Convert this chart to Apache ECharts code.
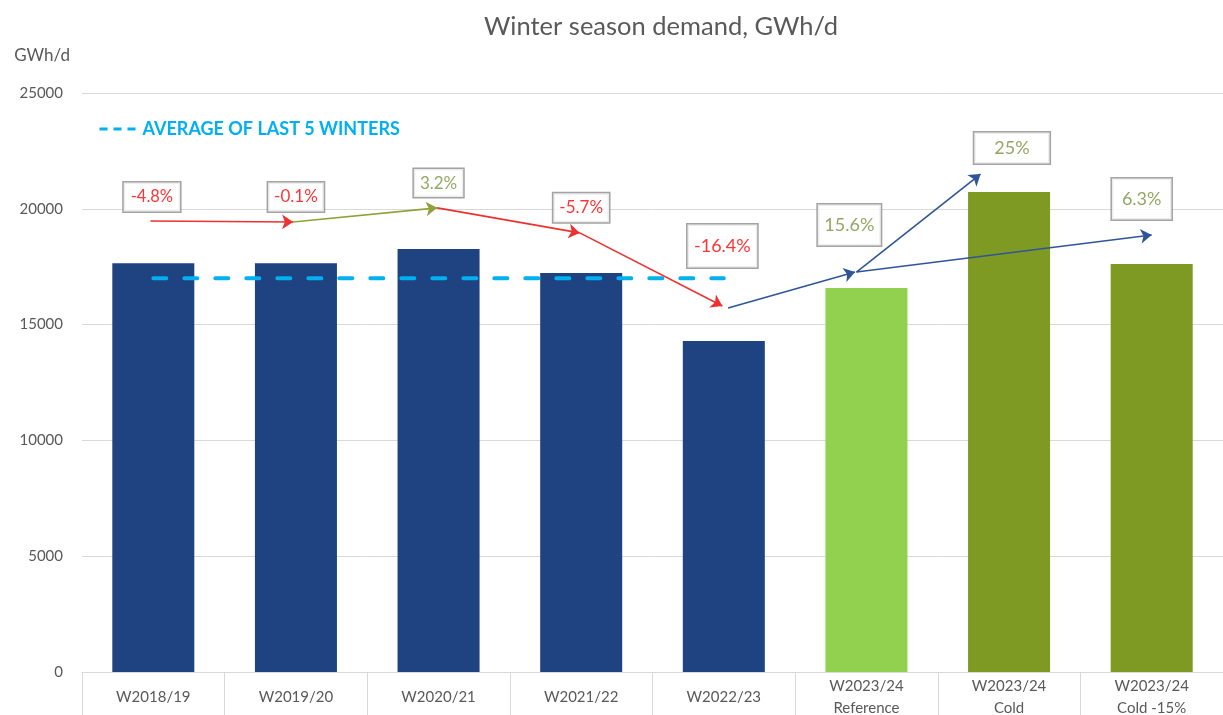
<!DOCTYPE html>
<html>
<head>
<meta charset="utf-8">
<script src="https://cdn.jsdelivr.net/npm/echarts@6/dist/echarts.min.js"></script>
<style>
  html, body { margin: 0; padding: 0; background: #fff; }
  #chart { width: 1223px; height: 715px; }
</style>
</head>
<body>
<div id="chart"></div>
<script>
const categories = ['W2018/19', 'W2019/20', 'W2020/21', 'W2021/22', 'W2022/23',
  'W2023/24\nReference', 'W2023/24\nCold', 'W2023/24\nCold -15%']
const demand = [17650, 17650, 18260, 17230, 14290, 16580, 20730, 17620]
const averageLast5 = 17000
const yTicks = { min: 0, max: 25000, step: 5000 }

// change annotations: text, label anchor [x, y], where x is the category slot (0..8)
const changeLabels = ['-4.8%', '-0.1%', '3.2%', '-5.7%', '-16.4%', '15.6%', '25%', '6.3%']
const labelAnchors = [[0.49, 20510], [1.50, 20510], [2.50, 21110], [3.50, 20040],
  [4.49, 18390], [5.38, 19300], [6.52, 22620], [7.43, 20420]]
// arrows: [from, to] in the same coordinates
const arrows = [
  [[0.48, 19470], [1.48, 19430]],
  [[1.48, 19430], [2.49, 20040]],
  [[2.49, 20040], [3.49, 18960]],
  [[3.49, 18960], [4.49, 15800]],
  [[4.53, 15720], [5.42, 17270]],
  [[5.43, 17270], [6.30, 21500]],
  [[5.43, 17270], [7.50, 18870]]
]

const RED = '#FF0000'
const OLIVE = '#76923C'
const NAVY = '#2F5597'
const barColor = i => (i < 5 ? '#1F4380' : i === 5 ? '#92D050' : '#7F9A23')
const arrowColor = i => (i === 1 ? '#8FA23A' : i >= 4 ? NAVY : '#EE3030')
// font size, line height, padding [v, h]
const labelStyle = [
  { size: 16.5, lh: 18, pad: [5.5, 7] }, { size: 17, lh: 18, pad: [5.5, 6] },
  { size: 17, lh: 18, pad: [5, 6] }, { size: 17, lh: 18, pad: [5.5, 6] },
  { size: 18, lh: 20, pad: [11.5, 6.5] }, { size: 18, lh: 20, pad: [10.5, 6.5] },
  { size: 18, lh: 20, pad: [5.5, 20] }, { size: 18, lh: 20, pad: [10.5, 10] }
]

const font = 'Lato, "Liberation Sans", sans-serif'
const chart = echarts.init(document.getElementById('chart'))

chart.setOption({
  backgroundColor: '#fff',
  animation: false,
  textStyle: { fontFamily: font },
  title: {
    text: 'Winter season demand, GWh/d',
    left: 479, top: 9,
    textStyle: { color: '#595959', fontSize: 25.5, fontWeight: 'normal', fontFamily: font }
  },
  legend: {
    left: 93, top: 115,
    data: ['AVERAGE OF LAST 5 WINTERS'],
    itemWidth: 38, itemHeight: 12,
    itemStyle: { color: 'rgba(0,0,0,0)', borderWidth: 0 },
    lineStyle: { type: [8, 6], width: 3, cap: 'butt' },
    textStyle: { color: '#00B0F0', fontSize: 18, fontWeight: 'bold', fontFamily: font }
  },
  grid: { left: 82, right: 0, top: 93, bottom: 43, containLabel: false, outerBoundsMode: 'none' },
  xAxis: [
    {
      type: 'category',
      data: categories,
      axisLine: { lineStyle: { color: '#D9D9D9' } },
      axisTick: { show: true, length: 45, alignWithLabel: false, lineStyle: { color: '#D9D9D9' } },
      axisLabel: {
        color: '#595959', fontSize: 15, margin: 25, lineHeight: 22,
        verticalAlign: 'middle', fontFamily: font
      }
    },
    { type: 'value', min: 0, max: 8, show: false }
  ],
  yAxis: {
    type: 'value',
    min: yTicks.min, max: yTicks.max, interval: yTicks.step,
    name: 'GWh/d',
    nameLocation: 'end',
    nameGap: 29,
    nameTextStyle: { color: '#595959', fontSize: 17, align: 'right', padding: [0, 12, 0, 0] },
    axisLine: { show: false },
    axisTick: { show: false },
    axisLabel: { color: '#595959', fontSize: 15, margin: 19, fontFamily: font, formatter: v => String(v) },
    splitLine: { lineStyle: { color: '#D9D9D9' } }
  },
  series: [
    {
      type: 'bar',
      barWidth: '57.5%',
      data: demand.map((v, i) => ({ value: v, itemStyle: { color: barColor(i) } })),
      z: 2
    },
    {
      name: 'AVERAGE OF LAST 5 WINTERS',
      type: 'line',
      symbol: 'none',
      data: demand.map((v, i) => (i < 5 ? averageLast5 : '-')),
      lineStyle: { color: '#00B0F0', width: 4, type: [13, 18], cap: 'round' },
      itemStyle: { color: '#00B0F0' },
      z: 3
    },
    {
      type: 'lines',
      coordinateSystem: 'cartesian2d',
      xAxisIndex: 1,
      yAxisIndex: 0,
      symbol: ['none', 'arrow'],
      symbolSize: 11,
      data: arrows.map((a, i) => ({
        coords: a,
        lineStyle: { color: arrowColor(i), width: 1.6, opacity: 1, curveness: 0 }
      })),
      z: 4
    },
    {
      type: 'scatter',
      xAxisIndex: 1,
      yAxisIndex: 0,
      symbolSize: 1,
      itemStyle: { color: 'rgba(0,0,0,0)' },
      data: labelAnchors.map((p, i) => ({
        value: p,
        name: changeLabels[i],
        label: {
          show: true,
          position: 'inside',
          formatter: changeLabels[i],
          color: changeLabels[i].startsWith('-') ? RED : OLIVE,
          fontSize: labelStyle[i].size,
          lineHeight: labelStyle[i].lh,
          fontFamily: font,
          backgroundColor: '#fff',
          borderColor: '#8C8C8C',
          borderWidth: 1.5,
          padding: labelStyle[i].pad
        }
      })),
      z: 5
    }
  ]
})
</script>
</body>
</html>
